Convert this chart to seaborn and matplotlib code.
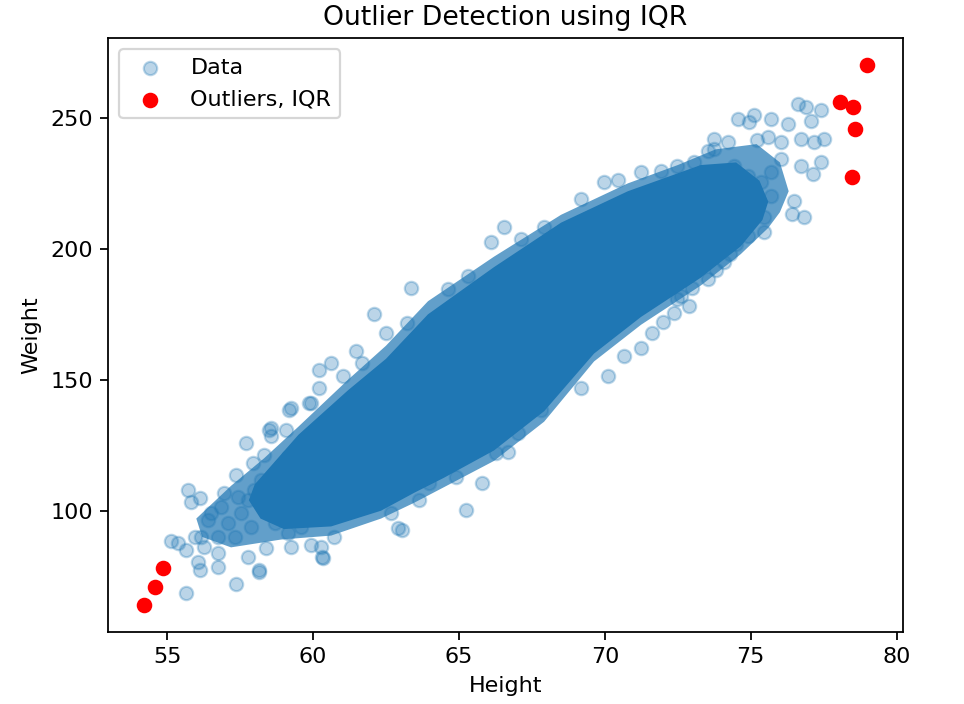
import matplotlib
matplotlib.use("Agg")
import matplotlib.pyplot as plt
import seaborn as sns

# outline of the solid (saturated) centre of the cloud
core_height = [58.0, 59.5, 61.2, 62.5, 63.94, 66.2, 68.5, 70.79, 73.29, 74.5, 75.3, 75.6,
               75.4, 74.66, 73.29, 71.24, 69.63, 67.92, 66.2, 64.49, 63.46, 62.33, 60.62, 59.0, 58.2, 57.8]
core_weight = [110.0, 129.0, 146.0, 158.0, 175.0, 193.0, 210.0, 222.0, 232.0, 233.0, 226.0, 218.0,
               211.0, 201.0, 189.0, 174.0, 160.0, 138.0, 123.0, 112.6, 106.8, 100.0, 94.0, 93.0, 97.0, 104.0]

# outline of the half-covered band of overlapping points around the centre
band_height = [56.0, 57.19, 58.32, 59.49, 61.2, 62.5, 63.94, 66.2, 68.5, 70.79, 72.5, 73.8, 75.2, 76.0,
               76.3, 76.0, 75.6, 74.66, 73.29, 71.24, 69.63, 67.92, 66.2, 64.49, 63.46, 62.33, 60.62,
               58.91, 57.19, 56.2]
band_weight = [97.0, 109.5, 120.0, 132.0, 150.0, 163.0, 180.0, 197.0, 213.0, 225.0, 232.0, 238.0, 240.0,
               233.0, 222.0, 214.0, 208.0, 198.0, 186.0, 171.0, 157.0, 134.0, 119.0, 109.0, 103.0, 97.0,
               90.5, 89.0, 86.0, 90.0]

# single visible points around the core
data_height = [
    55.65, 57.36, 58.16, 56.11, 56.74, 56.05, 55.65, 55.14, 55.37, 57.76, 58.39, 59.25, 59.93, 60.33,
    60.28, 60.73, 56.74, 56.16, 55.71, 55.82, 56.11, 57.36, 57.71, 58.50, 58.56, 59.19, 59.93, 60.22,
    58.33, 57.94, 56.51, 56.96, 62.90, 62.67,
    56.39, 57.08, 57.53, 57.88, 57.31, 56.85, 57.42, 57.99, 58.45, 58.68, 59.14, 59.59, 58.68, 58.22,
    57.76, 56.74, 56.28, 55.94, 58.91, 59.14,
    62.09, 63.23, 61.46, 60.61, 60.21, 59.24, 59.86, 58.55, 61.69, 62.49, 61.01, 59.06,
    65.23, 65.80, 64.89, 63.63, 63.06, 60.32, 58.15, 66.26, 63.98,
    66.56, 66.10, 63.36, 67.13, 67.93, 69.18, 69.98, 70.44, 71.24, 71.92, 64.61, 65.30,
    71.24, 70.10, 69.18, 70.67, 72.38, 72.61, 66.67, 67.81, 67.01,
    74.55, 75.12, 75.69, 74.95, 76.61, 76.89, 77.40, 77.06, 76.26, 73.75, 74.21, 73.52, 75.23, 75.58,
    76.03, 76.72, 77.52, 77.18, 77.40, 77.12, 76.72, 76.03, 75.69, 76.49, 76.43, 76.83, 75.46, 75.46,
    74.89, 74.50, 74.09, 73.52, 72.49, 72.49, 73.06, 74.43, 74.89, 75.35, 75.69, 75.12, 73.75,
    73.00, 73.80, 74.30, 74.90, 72.90, 72.00, 71.60,
]
data_weight = [
    68.4, 72.2, 76.6, 77.3, 78.5, 80.5, 84.9, 88.5, 87.5, 82.4, 85.6, 86.2, 86.9, 81.8,
    86.2, 90.0, 83.7, 90.0, 107.9, 103.4, 104.8, 113.7, 125.8, 130.9, 128.4, 138.6, 141.1, 146.9,
    121.3, 118.2, 99.0, 106.7, 93.3, 99.0,
    96.4, 95.2, 99.0, 93.9, 90.0, 101.5, 105.4, 107.9, 101.5, 95.2, 91.3, 93.9, 113.0, 111.8,
    104.1, 90.0, 86.2, 90.0, 116.9, 120.7,
    175.0, 171.8, 160.9, 156.5, 153.9, 139.2, 141.1, 131.6, 156.5, 168.0, 151.3, 130.9,
    100.3, 110.5, 113.0, 104.1, 92.6, 82.4, 77.3, 122.0, 110.5,
    208.2, 202.5, 185.2, 203.7, 208.2, 219.0, 225.4, 226.1, 229.3, 229.9, 184.6, 189.7,
    162.2, 151.3, 146.9, 159.0, 175.6, 182.0, 122.6, 138.6, 129.7,
    249.7, 251.0, 249.7, 248.4, 255.4, 254.2, 252.9, 249.0, 247.8, 242.0, 240.8, 237.5, 241.4, 242.7,
    240.8, 242.0, 242.0, 240.8, 233.1, 228.6, 231.8, 234.4, 229.3, 218.4, 213.3, 212.0, 212.0, 206.3,
    213.9, 201.8, 194.8, 188.4, 180.7, 231.8, 233.1, 231.8, 228.0, 225.4, 220.3, 219.0, 238.2,
    185.0, 192.0, 198.0, 205.0, 178.0, 172.0, 168.0,
]

outlier_height = [54.22, 54.60, 54.87, 78.07, 78.52, 78.58, 78.47, 78.97]
outlier_weight = [64.1, 70.8, 78.2, 256.1, 254.2, 245.6, 227.4, 270.1]

fig = plt.figure(figsize=(964 / 160, 704 / 160), dpi=160)
ax = fig.add_axes([0.1123, 0.1027, 0.8241, 0.8429])

ax.fill(band_height, band_weight, color="#1f77b4", alpha=0.7, linewidth=0)
ax.fill(core_height, core_weight, color="#1f77b4", linewidth=0)
sns.scatterplot(x=data_height, y=data_weight, ax=ax, color="#1f77b4", alpha=0.3, s=36,
                edgecolor="#1f77b4", linewidth=1.0, label="Data")
sns.scatterplot(x=outlier_height, y=outlier_weight, ax=ax, color="red", s=36,
                edgecolor="red", linewidth=1.0, label="Outliers, IQR")

ax.legend(loc="upper left")
ax.set_title("Outlier Detection using IQR")
ax.set_xlabel("Height")
ax.set_ylabel("Weight")

fig.savefig("out.png", dpi=160)
